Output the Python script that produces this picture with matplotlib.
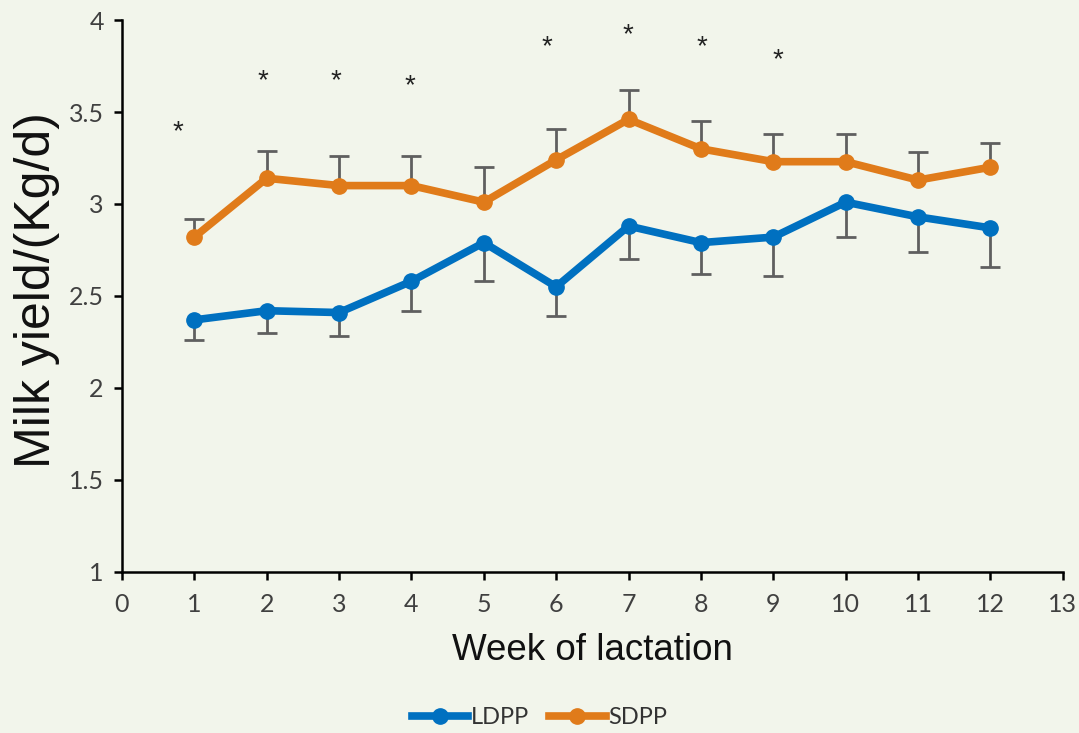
import matplotlib
matplotlib.use("Agg")
import matplotlib.pyplot as plt

# Weekly milk yield (kg/d), means and one-sided SE
weeks = [1, 2, 3, 4, 5, 6, 7, 8, 9, 10, 11, 12]
ldpp_mean = [2.37, 2.42, 2.41, 2.58, 2.79, 2.55, 2.88, 2.79, 2.82, 3.01, 2.93, 2.87]
ldpp_err = [0.11, 0.12, 0.13, 0.16, 0.21, 0.16, 0.18, 0.17, 0.21, 0.19, 0.19, 0.21]
sdpp_mean = [2.82, 3.14, 3.10, 3.10, 3.01, 3.24, 3.46, 3.30, 3.23, 3.23, 3.13, 3.20]
sdpp_err = [0.10, 0.15, 0.16, 0.16, 0.19, 0.17, 0.16, 0.15, 0.15, 0.15, 0.15, 0.13]

# Significance markers (week, height)
sig_x = [0.77, 1.95, 2.96, 3.98, 5.87, 6.99, 8.02, 9.07]
sig_y = [3.39, 3.67, 3.67, 3.64, 3.85, 3.92, 3.85, 3.78]

xticks = list(range(0, 14))
yticks = [1, 1.5, 2, 2.5, 3, 3.5, 4]
ytick_labels = ["1", "1.5", "2", "2.5", "3", "3.5", "4"]

bg = "#F2F5EB"
blue = "#0070C0"
orange = "#E07B1A"
err_color = "#5F5F5F"
tick_font = ["Lato", "DejaVu Sans"]
label_font = ["Liberation Sans", "DejaVu Sans"]

fig = plt.figure(figsize=(10.79, 7.33), dpi=100, facecolor=bg)
ax = fig.add_axes([0.113, 0.2197, 0.872, 0.753])
ax.set_facecolor(bg)


def one_sided_bars(x, mean, err, sign):
    ends = [m + sign * e for m, e in zip(mean, err)]
    ax.vlines(x, mean, ends, color=err_color, lw=2, zorder=2)
    ax.plot(x, ends, ls="none", marker="_", ms=14, mew=2,
            color=err_color, zorder=2)


# error bars: LDPP downward, SDPP upward
one_sided_bars(weeks, ldpp_mean, ldpp_err, -1)
one_sided_bars(weeks, sdpp_mean, sdpp_err, +1)

ax.plot(weeks, ldpp_mean, color=blue, lw=5.5, marker="o", ms=11,
        label="LDPP", zorder=3, solid_joinstyle="round")
ax.plot(weeks, sdpp_mean, color=orange, lw=5.5, marker="o", ms=11,
        label="SDPP", zorder=3, solid_joinstyle="round")

for x, y in zip(sig_x, sig_y):
    ax.text(x, y, "*", ha="center", va="center", fontsize=20,
            color="#222222", family=label_font)

ax.set_xlim(0, 13)
ax.set_ylim(1, 4)
ax.set_xticks(xticks)
ax.set_yticks(yticks)
ax.set_yticklabels(ytick_labels)

for s in ["top", "right"]:
    ax.spines[s].set_visible(False)
for s in ["left", "bottom"]:
    ax.spines[s].set_linewidth(1.8)
    ax.spines[s].set_color("black")

ax.tick_params(axis="both", direction="out", length=6, width=1.8,
               colors="black", labelcolor="#404040", labelsize=18)
ax.tick_params(axis="x", pad=9)
ax.tick_params(axis="y", pad=7)
for lbl in ax.get_xticklabels() + ax.get_yticklabels():
    lbl.set_family(tick_font)

ax.set_xlabel("Week of lactation", fontsize=26.5, family=label_font,
              color="#111111")
ax.xaxis.set_label_coords(0.5, -0.111)
ax.set_ylabel("Milk yield/(Kg/d)", fontsize=36, family=label_font,
              color="#111111")
ax.yaxis.set_label_coords(-0.066, 0.51)

leg = fig.legend(loc="lower center", bbox_to_anchor=(0.5, -0.022), ncol=2,
                 frameon=False, handlelength=2.4, columnspacing=0.85,
                 handletextpad=0.1, prop={"family": tick_font, "size": 17})
for t in leg.get_texts():
    t.set_color("#333333")

fig.savefig("out.png", dpi=100, facecolor=bg)
